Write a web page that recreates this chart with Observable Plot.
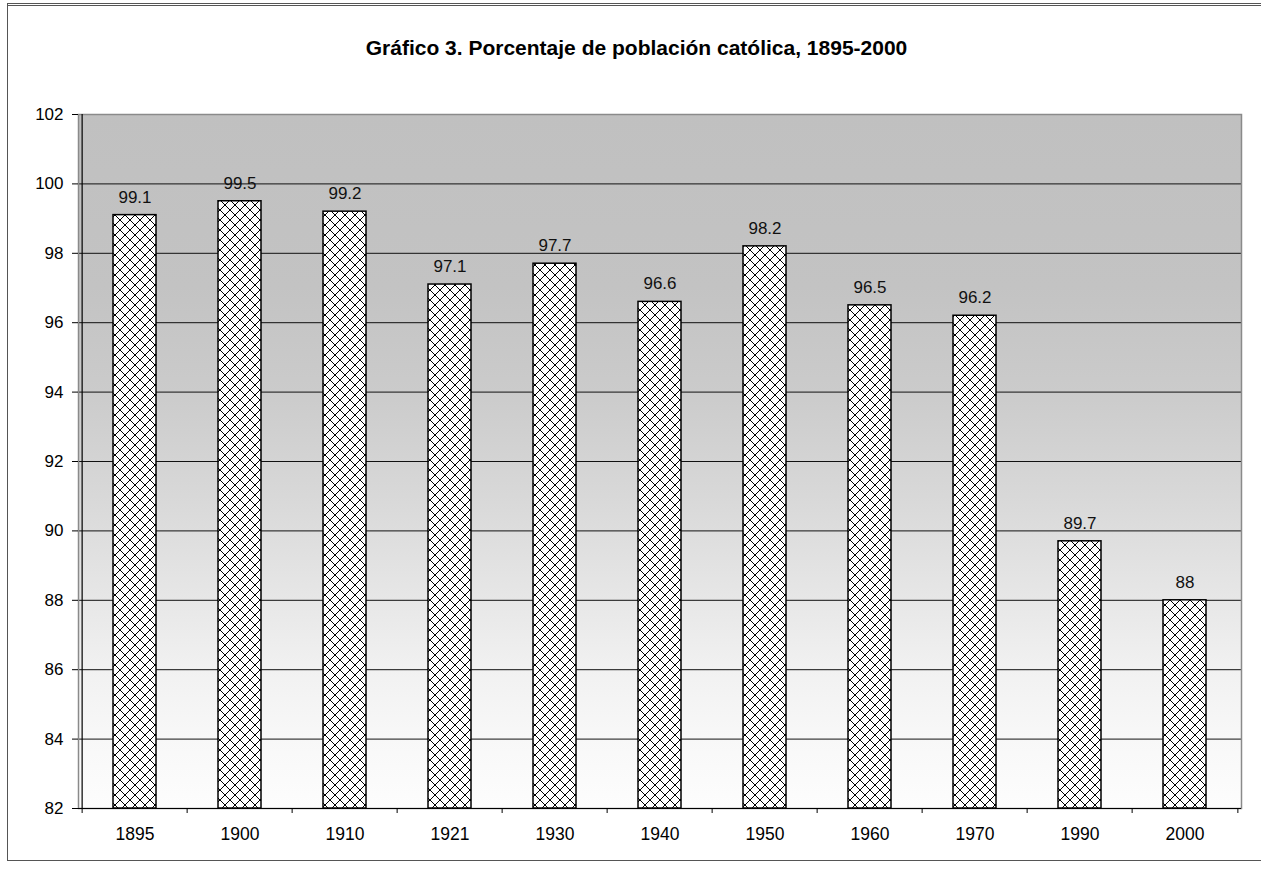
<!DOCTYPE html>
<html>
<head>
<meta charset="utf-8">
<script src="https://cdn.jsdelivr.net/npm/d3@7"></script>
<script src="https://cdn.jsdelivr.net/npm/@observablehq/plot@0.6"></script>
<style>
  html, body { margin: 0; padding: 0; background: #fff; }
  #wrap { position: relative; width: 1261px; height: 872px; font-family: "Liberation Sans", Arial, sans-serif; }
  #frame { position: absolute; left: 7px; top: 3px; width: 1254px; height: 858px; border: 1px solid #555; border-top: 3px double #555; border-right: none; box-sizing: border-box; pointer-events: none; }
  #title { height: 60px; box-sizing: border-box; text-align: center; font-weight: bold; font-size: 21px; line-height: 24px; padding-top: 36px; padding-left: 12px; color: #000; }
  #chart svg { display: block; }
</style>
</head>
<body>
<div id="wrap">
  <div id="frame"></div>
  <div id="title">Gráfico 3. Porcentaje de población católica, 1895-2000</div>
  <div id="chart"></div>
</div>
<script>
const years = ["1895", "1900", "1910", "1921", "1930", "1940", "1950", "1960", "1970", "1990", "2000"];
const values = [99.1, 99.5, 99.2, 97.1, 97.7, 96.6, 98.2, 96.5, 96.2, 89.7, 88];
const yTicks = [82, 84, 86, 88, 90, 92, 94, 96, 98, 100, 102];

const data = years.map((y, i) => ({year: y, value: values[i]}));
const area = [{lo: yTicks[0], hi: yTicks[yTicks.length - 1]}];

const W = 1261, H = 812;
const mL = 78, mR = 20, mT = 54, mB = 64;
const step = (W - mL - mR) / years.length;

const svg = Plot.plot({
  width: W,
  height: H,
  marginLeft: mL,
  marginRight: mR,
  marginTop: mT,
  marginBottom: mB,
  style: {fontFamily: "'Liberation Sans', Arial, sans-serif", fontSize: "17px", color: "#000", background: "transparent"},
  x: {domain: years, paddingInner: 0.59, paddingOuter: 0.295, label: null},
  y: {domain: [82, 102], label: null},
  marks: [
    Plot.rect(area, {y1: "lo", y2: "hi", fill: "url(#bg)"}),
    Plot.ruleY(yTicks, {stroke: "#111", strokeWidth: 1}),
    Plot.frame({stroke: "#8a8a8a", strokeWidth: 1.5}),
    Plot.ruleY([82], {stroke: "#000", strokeWidth: 1.2}),
    Plot.ruleX([years[0]], {dx: -step / 2, stroke: "#000", strokeWidth: 1.2}),
    Plot.barY(data, {x: "year", y1: 82, y2: "value", fill: "url(#hatch)", stroke: "#000", strokeWidth: 1.5}),
    Plot.text(data, {x: "year", y: "value", text: d => String(d.value), dy: -18, fontSize: 17, fill: "#111"}),
    Plot.axisY(yTicks, {tickSize: 6, tickPadding: 9, fontSize: 17, label: null}),
    Plot.axisX({tickSize: 0, tickPadding: 19, fontSize: 17.5, label: null}),
    Plot.axisX(years, {tickSize: 5, tickFormat: () => "", dx: -step / 2, label: null}),
    Plot.axisX([years[years.length - 1]], {tickSize: 5, tickFormat: () => "", dx: step / 2, label: null})
  ]
});

const ns = "http://www.w3.org/2000/svg";
const defs = document.createElementNS(ns, "defs");
defs.innerHTML = `<pattern id="hatch" patternUnits="userSpaceOnUse" width="10" height="10">
  <rect width="10" height="10" fill="#fff"/>
  <path d="M0,0 L10,10 M10,0 L0,10" stroke="#000" stroke-width="1" shape-rendering="crispEdges"/>
</pattern>
<linearGradient id="bg" x1="0" y1="0" x2="0" y2="1">
  <stop offset="0" stop-color="#c0c0c0"/>
  <stop offset="0.25" stop-color="#c3c3c3"/>
  <stop offset="0.4" stop-color="#cbcbcb"/>
  <stop offset="0.55" stop-color="#d8d8d8"/>
  <stop offset="0.7" stop-color="#e7e7e7"/>
  <stop offset="0.8" stop-color="#f1f1f1"/>
  <stop offset="0.9" stop-color="#f8f8f8"/>
  <stop offset="1" stop-color="#fdfdfd"/>
</linearGradient>`;
svg.insertBefore(defs, svg.firstChild);
d3.select(svg).selectAll("g[aria-label='bar'] rect").attr("fill", "url(#hatch)");
d3.select(svg).selectAll("g[aria-label='rect'] rect").attr("fill", "url(#bg)");

document.getElementById("chart").appendChild(svg);
</script>
</body>
</html>
